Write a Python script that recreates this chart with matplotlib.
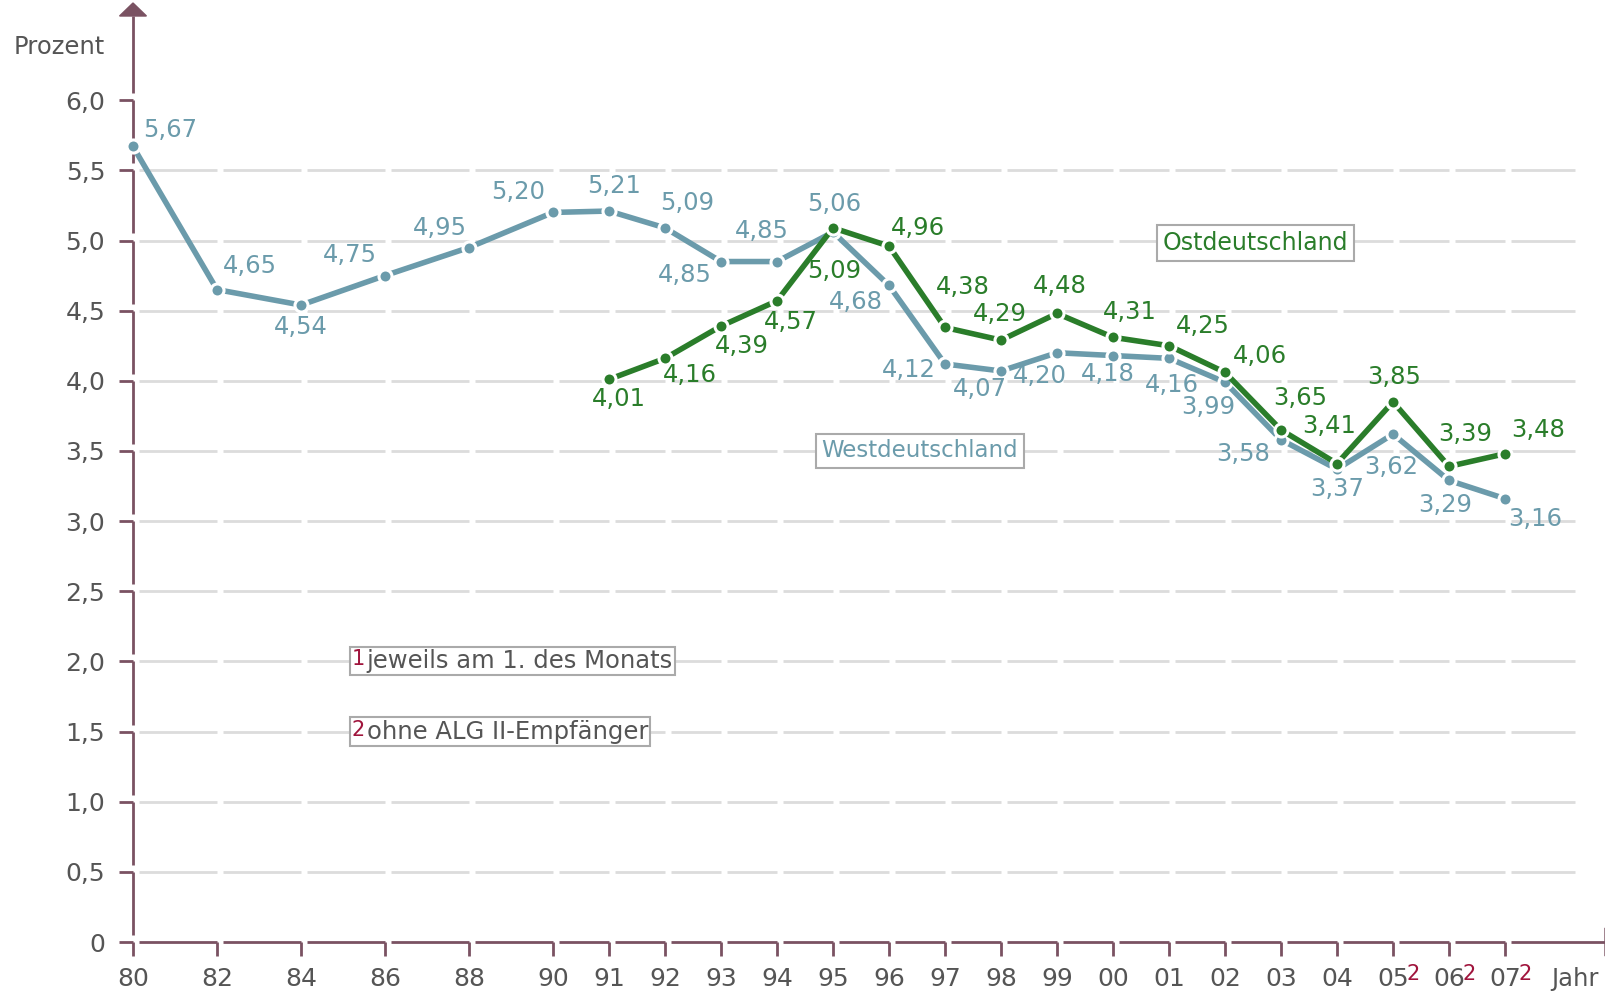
import matplotlib
matplotlib.use('Agg')
import matplotlib.pyplot as plt
from matplotlib.patches import Polygon
from matplotlib.offsetbox import TextArea, HPacker, AnnotationBbox

# data
years_west = [1980, 1982, 1984, 1986, 1988, 1990, 1991, 1992, 1993, 1994, 1995, 1996,
              1997, 1998, 1999, 2000, 2001, 2002, 2003, 2004, 2005, 2006, 2007]
west = [5.67, 4.65, 4.54, 4.75, 4.95, 5.20, 5.21, 5.09, 4.85, 4.85, 5.06, 4.68,
        4.12, 4.07, 4.20, 4.18, 4.16, 3.99, 3.58, 3.37, 3.62, 3.29, 3.16]
years_east = list(range(1991, 2008))
east = [4.01, 4.16, 4.39, 4.57, 5.09, 4.96, 4.38, 4.29, 4.48, 4.31, 4.25, 4.06,
        3.65, 3.41, 3.85, 3.39, 3.48]
tick_labels = ['80', '82', '84', '86', '88', '90', '91', '92', '93', '94', '95', '96',
               '97', '98', '99', '00', '01', '02', '03', '04', '05', '06', '07']
footnote2_years = [2005, 2006, 2007]
yticks = [0, 0.5, 1.0, 1.5, 2.0, 2.5, 3.0, 3.5, 4.0, 4.5, 5.0, 5.5, 6.0]

# label offsets in points (dx, dy)
west_off = [(27, 12), (24, 17), (0, -16), (-25, 15), (-21, 14), (-25, 15), (4, 18),
            (16, 18), (-26, -10), (-11, 22), (1, 20), (-24, -12), (-26, -4), (-15, -13),
            (-12, -17), (-4, -13), (2, -19), (-12, -18), (-27, -10), (0, -14), (-1, -24),
            (-3, -18), (22, -15)]
east_off = [(7, -14), (18, -12), (15, -14), (10, -15), (1, -31), (21, 13), (13, 29),
            (-1, 19), (2, 20), (12, 18), (24, 14), (25, 12), (14, 23), (-6, 27),
            (1, 18), (12, 23), (24, 17)]

BLUE = '#6b9bab'
GREEN = '#2a7d2a'
AXC = '#7a5262'
GRAY = '#555555'
RED = '#a0143c'
GRID = '#dcdcdc'


def pos(y):
    # two-year steps up to 1990 are drawn 1.5 units wide, then one unit per year
    if y <= 1990:
        return (y - 1980) * 0.75
    return 7.5 + (y - 1990)


xw = [pos(y) for y in years_west]
xe = [pos(y) for y in years_east]

fig = plt.figure(figsize=(16.06, 9.93), dpi=100)
ax = fig.add_axes([133 / 1606, 51 / 993, (1605 - 133) / 1606, 939 / 993])
xmax = (1605 - 133) / 56
ymax = 939 / 140.3
ax.set_xlim(0, xmax)
ax.set_ylim(0, ymax)
for s in ax.spines.values():
    s.set_visible(False)

# dashed grid: one dash per x interval
gx = xw + [(1575 - 133) / 56]
for yv in yticks[1:-1]:
    for a, b in zip(gx[:-1], gx[1:]):
        ax.plot([a + 0.1, b], [yv, yv], color=GRID, lw=2, solid_capstyle='butt', zorder=1)

# axes drawn as segments
for a, b in zip(xw, xw[1:] + [xmax]):
    ax.plot([a + 0.1, b], [0, 0], color=AXC, lw=2, solid_capstyle='butt', clip_on=False, zorder=3)
ytop = ymax - 13 / 140.3
for a, b in zip(yticks, yticks[1:] + [ytop]):
    ax.plot([0, 0], [a + 0.05, b], color=AXC, lw=2, solid_capstyle='butt', clip_on=False, zorder=3)
ax.add_patch(Polygon([[0, ymax], [-0.24, ytop], [0.24, ytop]], closed=True, color=AXC, clip_on=False))
ax.add_patch(Polygon([[xmax, 0.1], [xmax, -0.1], [xmax + 0.3, 0]], closed=True, color=AXC, clip_on=False))

ax.set_xticks(xw)
ax.set_xticklabels(tick_labels)
ax.set_yticks(yticks)
ax.set_yticklabels(['0'] + [f'{v:.1f}'.replace('.', ',') for v in yticks[1:]])
ax.tick_params(axis='both', length=10, width=2, color=AXC, labelsize=18, labelcolor=GRAY)
ax.tick_params(axis='y', pad=10)
ax.tick_params(axis='x', pad=8)

for y in footnote2_years:
    ax.annotate('2', xy=(pos(y), 0), xytext=(10, -16), textcoords='offset points',
                ha='left', va='top', color=RED, fontsize=15, annotation_clip=False)
ax.annotate('Jahr', xy=((1575 - 133) / 56, 0), xytext=(0, -18), textcoords='offset points',
            ha='center', va='top', color=GRAY, fontsize=17.5, annotation_clip=False)
fig.text(59 / 1606, 1 - 47 / 993, 'Prozent', ha='center', va='center', color=GRAY, fontsize=17.5)

# lines
ax.plot(xw, west, color=BLUE, lw=4, marker='o', ms=9.4, mfc=BLUE, mec='white', mew=2.2,
        zorder=4, clip_on=False)
ax.plot(xe, east, color=GREEN, lw=4, marker='o', ms=9.4, mfc=GREEN, mec='white', mew=2.2,
        zorder=5, clip_on=False)

for x, v, o in zip(xw, west, west_off):
    ax.annotate(f'{v:.2f}'.replace('.', ','), xy=(x, v), xytext=o, textcoords='offset points',
                ha='center', va='center', color=BLUE, fontsize=17.5, zorder=6)
for x, v, o in zip(xe, east, east_off):
    ax.annotate(f'{v:.2f}'.replace('.', ','), xy=(x, v), xytext=o, textcoords='offset points',
                ha='center', va='center', color=GREEN, fontsize=17.5, zorder=6)

boxstyle = dict(boxstyle='square,pad=0.25', fc='white', ec='#aaaaaa', lw=1.5)
ax.text(20.05, 4.98, 'Ostdeutschland', ha='center', va='center', color=GREEN, fontsize=17,
        bbox=boxstyle, zorder=7)
ax.text(14.05, 3.50, 'Westdeutschland', ha='center', va='center', color=BLUE, fontsize=16.5,
        bbox=boxstyle, zorder=7)

for num, txt, yv in [('1', 'jeweils am 1. des Monats', 2.0), ('2', 'ohne ALG II-Empfänger', 1.5)]:
    pack = HPacker(children=[TextArea(num, textprops=dict(color=RED, fontsize=15)),
                             TextArea(txt, textprops=dict(color=GRAY, fontsize=17.5))],
                   align='top', pad=0, sep=1)
    ab = AnnotationBbox(pack, (3.91, yv), box_alignment=(0, 0.5), frameon=True, pad=0.15,
                        bboxprops=dict(edgecolor='#aaaaaa', facecolor='white', lw=1.5), zorder=7)
    ax.add_artist(ab)

fig.savefig('out.png', dpi=100)
